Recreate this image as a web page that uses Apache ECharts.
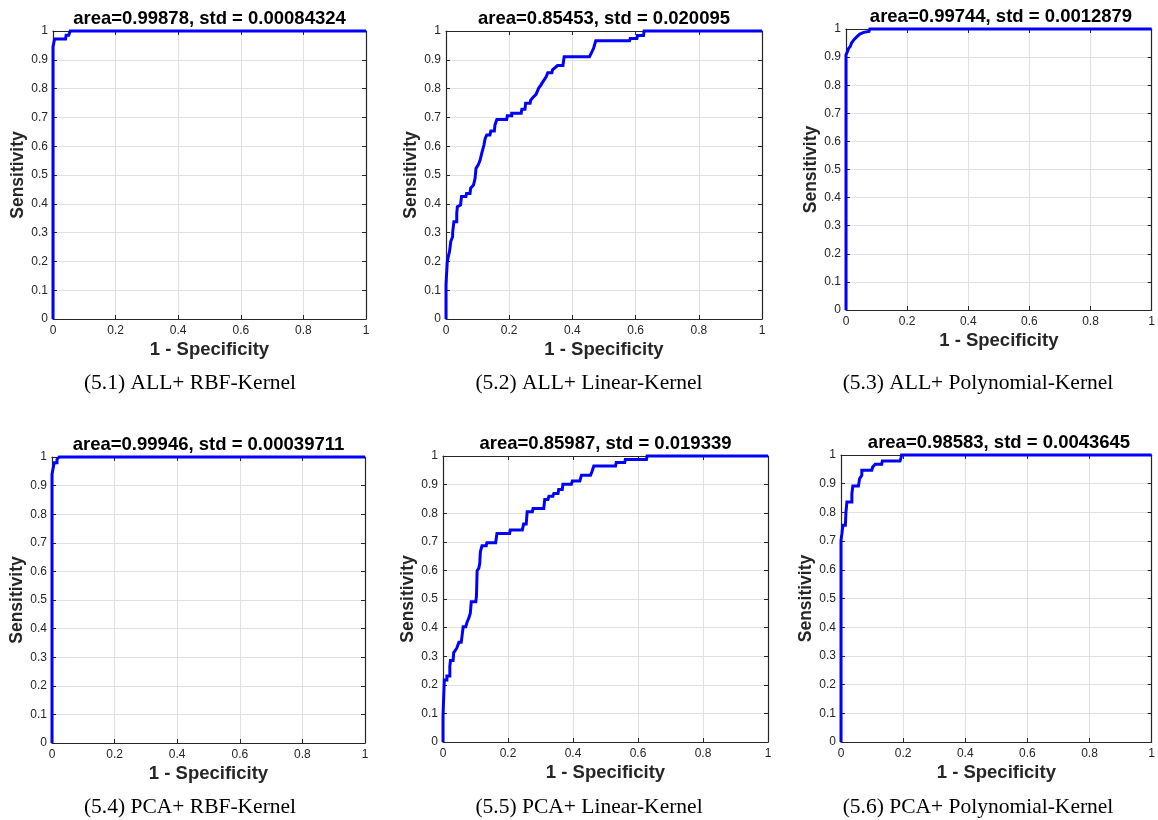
<!DOCTYPE html>
<html>
<head>
<meta charset="utf-8">
<script src="https://cdn.jsdelivr.net/npm/echarts@6/dist/echarts.min.js"></script>
<style>
html,body{margin:0;padding:0;background:#fff;}
#chart{width:1158px;height:820px;}
</style>
</head>
<body>
<div id="chart"></div>
<script>
// ---- data (ROC vertices: false positive rate / true positive rate) ----
const titles = [
  'area=0.99878, std = 0.00084324',
  'area=0.85453, std = 0.020095',
  'area=0.99744, std = 0.0012879',
  'area=0.99946, std = 0.00039711',
  'area=0.85987, std = 0.019339',
  'area=0.98583, std = 0.0043645'
];
const captions = [
  '(5.1) ALL+ RBF-Kernel',
  '(5.2) ALL+ Linear-Kernel',
  '(5.3) ALL+ Polynomial-Kernel',
  '(5.4) PCA+ RBF-Kernel',
  '(5.5) PCA+ Linear-Kernel',
  '(5.6) PCA+ Polynomial-Kernel'
];
const xAxisName = '1 - Specificity';
const yAxisName = 'Sensitivity';

const fpr1 = [0,0,0.005,0.04,0.042,0.05,0.055,1];
const tpr1 = [0,0.945,0.972,0.972,0.985,0.985,1,1];

const fpr2 = [0,0,0.004,0.004,0.008,0.011,0.013,0.015,0.021,0.021,0.025,0.034,0.034,0.036,0.046,0.049,0.063,0.065,0.076,0.078,0.087,0.092,0.095,0.102,0.108,0.113,0.12,0.124,0.129,0.139,0.142,0.153,0.155,0.161,0.192,0.194,0.208,0.208,0.238,0.24,0.25,0.252,0.266,0.268,0.275,0.285,0.293,0.3,0.308,0.317,0.322,0.335,0.337,0.353,0.37,0.374,0.454,0.458,0.467,0.474,0.581,0.583,0.604,0.606,0.625,0.627,1];
const tpr2 = [0,0.118,0.118,0.2,0.22,0.234,0.25,0.269,0.286,0.3,0.338,0.338,0.367,0.39,0.396,0.425,0.425,0.436,0.436,0.454,0.465,0.488,0.523,0.535,0.552,0.575,0.604,0.627,0.639,0.639,0.653,0.653,0.674,0.693,0.693,0.706,0.706,0.714,0.714,0.728,0.728,0.749,0.749,0.76,0.769,0.78,0.801,0.812,0.826,0.841,0.855,0.855,0.865,0.88,0.88,0.911,0.911,0.919,0.94,0.966,0.966,0.974,0.974,0.984,0.984,1,1];

const fpr3 = [0,0,0.005,0.008,0.014,0.018,0.021,0.026,0.029,0.035,0.04,0.045,0.05,0.058,0.064,0.075,0.078,1];
const tpr3 = [0,0.908,0.92,0.93,0.938,0.95,0.956,0.962,0.968,0.972,0.977,0.982,0.986,0.988,0.991,0.991,1,1];

const fpr4 = [0,0,0.003,0.007,0.016,0.016,0.021,0.023,1];
const tpr4 = [0,0.939,0.957,0.98,0.98,0.992,0.992,1,1];

const fpr5 = [0,0,0.004,0.004,0.012,0.012,0.021,0.021,0.023,0.031,0.033,0.039,0.043,0.049,0.056,0.058,0.062,0.07,0.074,0.08,0.084,0.087,0.101,0.103,0.105,0.11,0.113,0.115,0.12,0.133,0.135,0.162,0.166,0.205,0.207,0.244,0.248,0.256,0.259,0.275,0.277,0.31,0.313,0.323,0.326,0.338,0.341,0.354,0.356,0.367,0.369,0.395,0.398,0.421,0.426,0.454,0.458,0.464,0.531,0.533,0.559,0.561,0.626,0.628,1];
const tpr5 = [0,0.09,0.09,0.217,0.217,0.231,0.231,0.264,0.285,0.285,0.313,0.322,0.33,0.349,0.349,0.365,0.403,0.403,0.419,0.435,0.45,0.49,0.49,0.512,0.599,0.607,0.624,0.665,0.686,0.686,0.697,0.697,0.729,0.729,0.741,0.741,0.762,0.762,0.805,0.805,0.816,0.816,0.848,0.848,0.859,0.859,0.869,0.869,0.883,0.883,0.901,0.901,0.913,0.913,0.933,0.933,0.944,0.965,0.965,0.977,0.977,0.988,0.988,1,1];

const fpr6 = [0,0,0.003,0.006,0.014,0.016,0.019,0.019,0.035,0.035,0.038,0.056,0.06,0.067,0.067,0.099,0.102,0.11,0.131,0.133,0.19,0.193,0.195,1];
const tpr6 = [0,0.703,0.726,0.755,0.755,0.802,0.802,0.836,0.836,0.865,0.892,0.892,0.918,0.929,0.947,0.947,0.958,0.968,0.968,0.979,0.979,0.99,1,1];

const fprs = [fpr1,fpr2,fpr3,fpr4,fpr5,fpr6];
const tprs = [tpr1,tpr2,tpr3,tpr4,tpr5,tpr6];

// ---- layout ----
const grids = [
  {left:53, top:31, width:313, height:288},
  {left:446, top:31, width:316, height:288},
  {left:846, top:29, width:310, height:281},
  {left:52, top:457, width:313, height:286},
  {left:443, top:456, width:325, height:286},
  {left:841, top:455, width:316, height:287}
];
const captionPos = [[190,383],[589,383],[978,383],[190,807],[589,807],[978,807]];

const axisColor = '#262626';
const gridColor = '#e1e1e1';
const sans = 'Liberation Sans, Arial, Helvetica, sans-serif';

const option = {
  animation:false,
  backgroundColor:'#fff',
  grid:[], xAxis:[], yAxis:[], series:[], title:[], graphic:[]
};

grids.forEach((g,i)=>{
  option.grid.push(Object.assign({containLabel:false}, g));
  option.title.push({
    text:titles[i], left:g.left + g.width/2, top:g.top - 22, textAlign:'center', padding:0,
    textStyle:{fontFamily:sans, fontWeight:'bold', fontSize:18.5, color:'#000'}
  });
  option.xAxis.push({
    type:'value', gridIndex:i, min:0, max:1, interval:0.2, position:'bottom',
    name:xAxisName, nameLocation:'middle', nameGap:21,
    nameTextStyle:{fontFamily:sans, fontWeight:'bold', fontSize:18.5, color:'#262626'},
    axisLine:{show:true, onZero:false, lineStyle:{color:axisColor, width:1.2}},
    axisTick:{show:true, inside:true, length:4, lineStyle:{color:axisColor}},
    axisLabel:{show:true, margin:6, fontFamily:sans, fontSize:12, color:'#262626'},
    splitLine:{show:true, lineStyle:{color:gridColor, width:1}}
  });
  option.xAxis.push({
    type:'value', gridIndex:i, min:0, max:1, interval:0.2, position:'top',
    axisLine:{show:true, onZero:false, lineStyle:{color:axisColor, width:1.2}},
    axisTick:{show:true, inside:true, length:4, lineStyle:{color:axisColor}},
    axisLabel:{show:false}, splitLine:{show:false}
  });
  option.yAxis.push({
    type:'value', gridIndex:i, min:0, max:1, interval:0.1, position:'left',
    name:yAxisName, nameLocation:'middle', nameGap:26, nameRotate:90,
    nameTextStyle:{fontFamily:sans, fontWeight:'bold', fontSize:17.5, color:'#262626'},
    axisLine:{show:true, onZero:false, lineStyle:{color:axisColor, width:1.2}},
    axisTick:{show:true, inside:true, length:4, lineStyle:{color:axisColor}},
    axisLabel:{show:true, margin:5, fontFamily:sans, fontSize:12, color:'#262626'},
    splitLine:{show:true, lineStyle:{color:gridColor, width:1}}
  });
  option.yAxis.push({
    type:'value', gridIndex:i, min:0, max:1, interval:0.1, position:'right',
    axisLine:{show:true, onZero:false, lineStyle:{color:axisColor, width:1.2}},
    axisTick:{show:true, inside:true, length:4, lineStyle:{color:axisColor}},
    axisLabel:{show:false}, splitLine:{show:false}
  });
  option.series.push({
    type:'line', xAxisIndex:i*2, yAxisIndex:i*2,
    data:fprs[i].map((x,k)=>[x,tprs[i][k]]),
    showSymbol:false, symbol:'none', clip:false, z:5,
    lineStyle:{color:'#0000ff', width:3, join:'miter'}
  });
  option.graphic.push({
    type:'text', x:captionPos[i][0], y:captionPos[i][1],
    style:{text:captions[i], fill:'#000', font:'21.5px "Liberation Serif", "Times New Roman", serif',
      textAlign:'center', textVerticalAlign:'middle'}
  });
});

const chart = echarts.init(document.getElementById('chart'), null, {renderer:'canvas'});
chart.setOption(option);
</script>
</body>
</html>
